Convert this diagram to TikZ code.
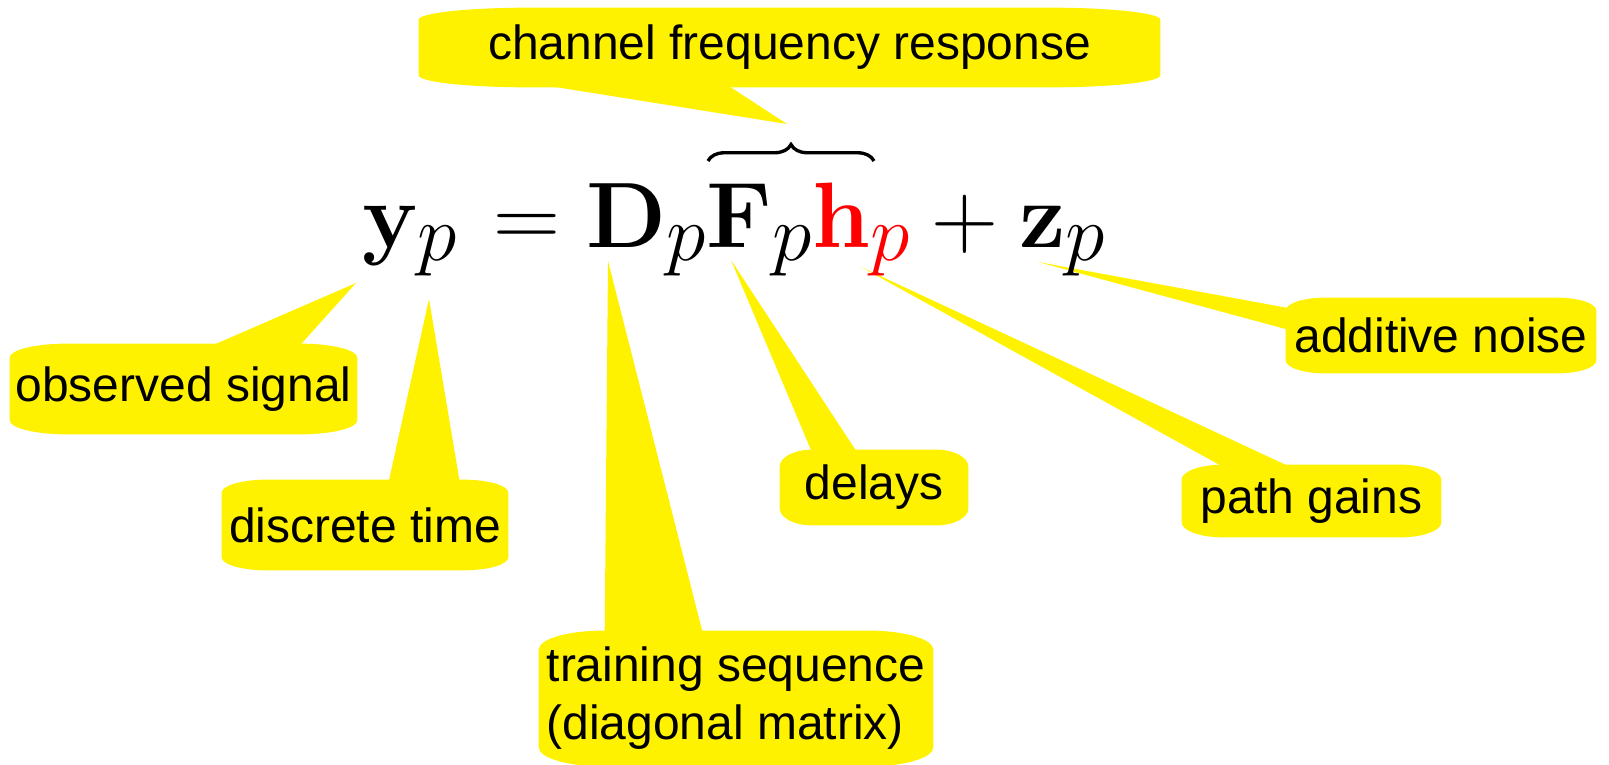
\RequirePackage{fix-cm}
\documentclass[tikz,border=0pt]{standalone}
\usepackage[no-math]{fontspec}
\newfontfamily\lblfont{Liberation Sans}
\usetikzlibrary{calc, backgrounds, decorations.pathreplacing}
\DeclareMathSizes{52.9}{52.9}{45.5}{36.6}
\newcommand{\bubblefill}[3]{%
  \fill[yellow] let \p1=(#1.south west), \p2=(#1.north east) in
    (\x1+#2,\y1) -- (\x2-#2,\y1)
    arc[start angle=-90, end angle=0, x radius=#2, y radius=#3]
    -- (\x2,\y2-#3)
    arc[start angle=0, end angle=90, x radius=#2, y radius=#3]
    -- (\x1+#2,\y2)
    arc[start angle=90, end angle=180, x radius=#2, y radius=#3]
    -- (\x1,\y1+#3)
    arc[start angle=180, end angle=270, x radius=#2, y radius=#3]
    -- cycle;}

\begin{document}
\begin{tikzpicture}[x=0.02cm, y=-0.02cm,
    bubble/.style={inner sep=0pt, align=left, text=black,
                   font=\lblfont\fontsize{27.3}{33}\selectfont},
    tail/.style={fill=yellow},
    eqn/.style={inner sep=0pt, font=\fontsize{52.9}{60}\selectfont},
    brc/.style={decorate, decoration={brace, amplitude=0.33cm}, line width=1.9pt},
]
\useasboundingbox (0,0) rectangle (1609,764);
\node[eqn, anchor=base west] (eq) at (362,247)
  {$\mathbf{y}_p\mkern2mu = \mathbf{D}_p\mathbf{F}_p\textcolor{red}{\mathbf{h}_p} + \mathbf{z}_p$};
\coordinate (braceL) at (708,161);
\coordinate (braceR) at (874,161);
\draw[brc] (braceL) -- (braceR);
\coordinate (braceTip) at (787,124);
\coordinate (yTip) at (356,283);
\coordinate (pTip) at (429,299);
\coordinate (dTip) at (608,261);
\coordinate (fTip) at (731,260);
\coordinate (hTip) at (861,267);
\coordinate (zTip) at (1038,262);
\node[bubble, minimum width=14.82cm, minimum height=1.58cm] (chan) at (789.5,47.5) {channel frequency response};
\node[bubble, minimum width=6.94cm, minimum height=1.80cm] (obs) at (183.5,389) {observed signal};
\node[bubble, minimum width=5.72cm, minimum height=1.80cm] (disc) at (365,525) {discrete time};
\node[bubble, minimum width=7.88cm, minimum height=2.70cm] (train) at (736,698.5) {training sequence\\(diagonal matrix)};
\node[bubble, minimum width=3.76cm, minimum height=1.50cm] (del) at (874,487.5) {delays};
\node[bubble, minimum width=5.18cm, minimum height=1.44cm] (gain) at (1311.5,501) {path gains};
\node[bubble, minimum width=6.20cm, minimum height=1.50cm] (noise) at (1441,335.5) {additive noise};
\begin{scope}[on background layer]
  \bubblefill{chan}{2.2cm}{0.24cm}
  \bubblefill{obs}{1.14cm}{0.28cm}
  \bubblefill{disc}{0.9cm}{0.26cm}
  \bubblefill{train}{1.28cm}{0.38cm}
  \bubblefill{del}{0.64cm}{0.34cm}
  \bubblefill{gain}{0.82cm}{0.3cm}
  \bubblefill{noise}{0.78cm}{0.26cm}
  \fill[tail] ($(chan.south west)+(126,-2)$) -- (braceTip) -- ($(chan.south west)+(309,-2)$) -- cycle;
  \fill[tail] ($(obs.north west)+(202,2)$) -- (yTip) -- ($(obs.north west)+(290,2)$) -- cycle;
  \fill[tail] ($(disc.north west)+(167,2)$) -- (pTip) -- ($(disc.north west)+(238,2)$) -- cycle;
  \fill[tail] ($(train.north west)+(66,2)$) -- (dTip) -- ($(train.north west)+(164,2)$) -- cycle;
  \fill[tail] ($(del.north west)+(32,2)$) -- (fTip) -- ($(del.north west)+(77,2)$) -- cycle;
  \fill[tail] ($(gain.north west)+(41,2)$) -- (hTip) -- ($(gain.north west)+(108,2)$) -- cycle;
  \fill[tail] ($(noise.north west)+(6,11)$) -- (zTip) -- ($(noise.north west)+(6,33)$) -- cycle;
\end{scope}
\end{tikzpicture}
\end{document}
